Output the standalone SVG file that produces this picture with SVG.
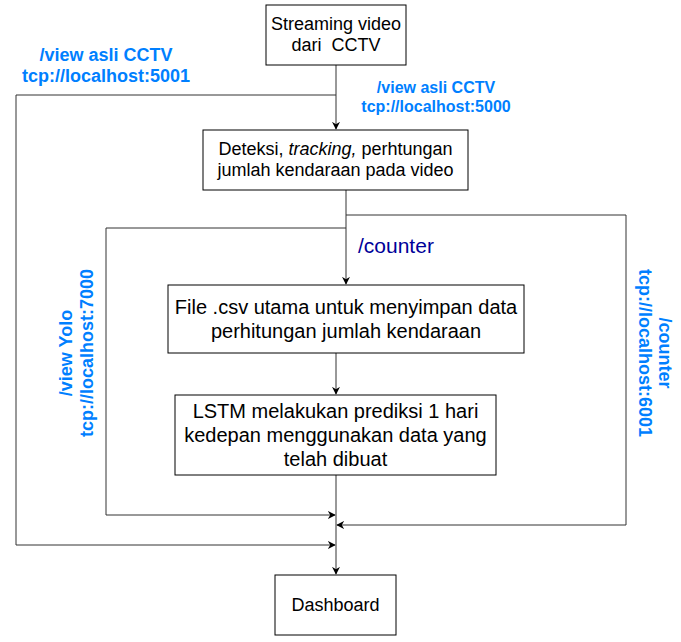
<svg xmlns="http://www.w3.org/2000/svg" width="681" height="642" viewBox="0 0 681 642">
<style>
.box{fill:#fff;stroke:#000;stroke-width:1}
.t{font-family:"Liberation Sans",Arial,sans-serif;font-size:18px;fill:#000;text-anchor:middle}
.t2{font-family:"Liberation Sans",Arial,sans-serif;font-size:20px;fill:#000;text-anchor:middle}
.c{fill:none;stroke:#333;stroke-width:1}
.lb{font-family:"Liberation Sans",Arial,sans-serif;font-size:18px;font-weight:bold;fill:#007FFF;text-anchor:middle}
.ls{font-family:"Liberation Sans",Arial,sans-serif;font-size:16px;font-weight:bold;fill:#007FFF;text-anchor:middle}
</style>
<defs>
<marker id="a" viewBox="0 0 10 10" refX="9" refY="5" markerWidth="8" markerHeight="8" markerUnits="userSpaceOnUse" orient="auto">
<path d="M0,0 L10,5 L0,10 L3,5 Z" fill="#000"/>
</marker>
</defs>
<rect width="681" height="642" fill="#fff"/>
<g id="connectors">
<path class="c" d="M336,65 V129" marker-end="url(#a)"/>
<path class="c" d="M336,95 H16 V545 H335" marker-end="url(#a)"/>
<path class="c" d="M346,190 V284" marker-end="url(#a)"/>
<path class="c" d="M346,215 H626 V525 H337" marker-end="url(#a)"/>
<path class="c" d="M346,228 H106 V515 H335" marker-end="url(#a)"/>
<path class="c" d="M336,353 V394" marker-end="url(#a)"/>
<path class="c" d="M336,475 V574" marker-end="url(#a)"/>
</g>
<g id="labels">
<text class="lb" x="106" y="61">/view asli CCTV</text>
<text class="lb" x="106" y="82">tcp://localhost:5001</text>
<text class="ls" x="436" y="93">/view asli CCTV</text>
<text class="ls" x="436" y="112">tcp://localhost:5000</text>
<text x="358" y="253" font-family="Liberation Sans,Arial,sans-serif" font-size="21" fill="#000099">/counter</text>
<g transform="translate(77,353) rotate(-90)">
<text class="lb" x="0" y="-5">/view Yolo</text>
<text class="lb" x="0" y="16">tcp://localhost:7000</text>
</g>
<g transform="translate(655,353) rotate(90)">
<text class="lb" x="0" y="-4">/counter</text>
<text class="lb" x="0" y="16">tcp://localhost:6001</text>
</g>
</g>
<g id="n1">
<rect class="box" x="266" y="5" width="140" height="60"/>
<text class="t" x="336" y="30">Streaming video</text>
<text class="t" x="336" y="51" xml:space="preserve">dari  CCTV</text>
</g>
<g id="n2">
<rect class="box" x="203" y="130" width="265" height="60"/>
<text class="t" x="335.5" y="155">Deteksi, <tspan font-style="italic">tracking,</tspan> perhtungan</text>
<text class="t" x="335.5" y="176">jumlah kendaraan pada video</text>
</g>
<g id="n3">
<rect class="box" x="168" y="285" width="356" height="68"/>
<text class="t2" x="346" y="314">File .csv utama untuk menyimpan data</text>
<text class="t2" x="346" y="338">perhitungan jumlah kendaraan</text>
</g>
<g id="n4">
<rect class="box" x="175" y="395" width="321" height="80"/>
<text class="t2" x="335.5" y="418">LSTM melakukan prediksi 1 hari</text>
<text class="t2" x="335.5" y="442">kedepan menggunakan data yang</text>
<text class="t2" x="335.5" y="466">telah dibuat</text>
</g>
<g id="n5">
<rect class="box" x="275" y="575" width="121" height="60"/>
<text class="t" x="335.5" y="611">Dashboard</text>
</g>
</svg>
